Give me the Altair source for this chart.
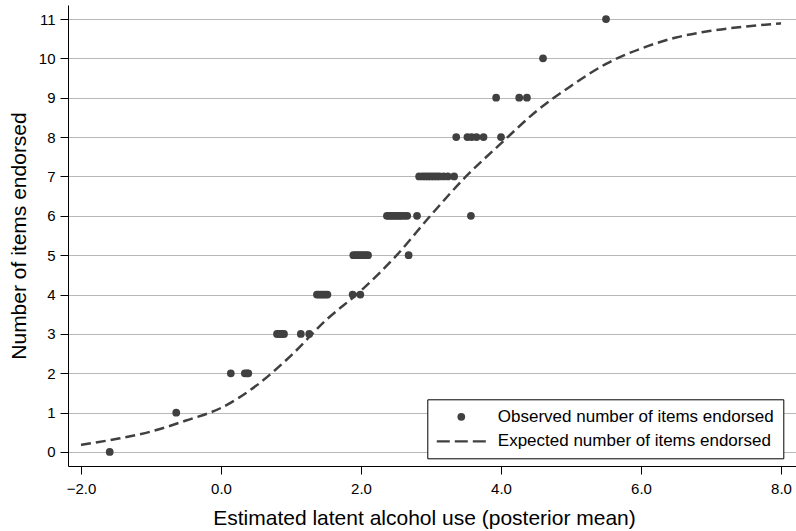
import altair as alt
import pandas as pd

# Observed items endorsed vs. posterior mean of latent alcohol use
obs_x = [-1.59,
         -0.64,
         0.14, 0.34, 0.37, 0.39,
         0.80, 0.82, 0.84, 0.86, 0.88, 0.90, 1.14, 1.26,
         1.37, 1.40, 1.43, 1.46, 1.49, 1.52, 1.88, 1.99,
         1.89, 1.92, 1.95, 1.98, 2.01, 2.04, 2.07, 2.10, 2.68,
         2.37, 2.40, 2.43, 2.46, 2.49, 2.52, 2.55, 2.58, 2.62, 2.66, 2.80, 3.57,
         2.83, 2.88, 2.92, 2.96, 3.00, 3.04, 3.08, 3.12, 3.18, 3.24, 3.33,
         3.36, 3.52, 3.58, 3.65, 3.75, 4.00,
         3.93, 4.26, 4.37,
         4.60,
         5.50]
obs_y = [0,
         1,
         2, 2, 2, 2,
         3, 3, 3, 3, 3, 3, 3, 3,
         4, 4, 4, 4, 4, 4, 4, 4,
         5, 5, 5, 5, 5, 5, 5, 5, 5,
         6, 6, 6, 6, 6, 6, 6, 6, 6, 6, 6, 6,
         7, 7, 7, 7, 7, 7, 7, 7, 7, 7, 7,
         8, 8, 8, 8, 8, 8,
         9, 9, 9,
         10,
         11]

# Expected number of items endorsed (test characteristic curve)
curve_x = [-2.0, -1.5, -1.0, -0.5, 0.0, 0.5, 1.0, 1.5, 2.0, 2.5, 3.0,
           3.5, 4.0, 4.5, 5.0, 5.5, 6.0, 6.5, 7.0, 7.5, 8.0]
curve_y = [0.18, 0.33, 0.52, 0.80, 1.12, 1.68, 2.45, 3.35, 4.10, 4.98, 6.02,
           7.00, 7.84, 8.65, 9.30, 9.86, 10.25, 10.53, 10.70, 10.81, 10.89]

x_ticks = [-2, 0, 2, 4, 6, 8]
y_ticks = list(range(0, 12))

OBS = "Observed number of items endorsed"
EXP = "Expected number of items endorsed"
series_names = [OBS, EXP]

# legend glyph for the dashed curve: three short filled bars
DASH_PATH = ("M-6.33,-0.3H-2.97V0.3H-6.33Z "
             "M-1.68,-0.3H1.68V0.3H-1.68Z "
             "M2.97,-0.3H6.33V0.3H2.97Z")

INK = "#404040"
FONT = "Liberation Sans"

points = pd.DataFrame({"x": obs_x, "y": obs_y, "series": OBS})
curve = pd.DataFrame({"x": curve_x, "y": curve_y})

x_scale = alt.Scale(domain=[-2.186, 8.214], nice=False, zero=False)
y_scale = alt.Scale(domain=[-0.356, 11.356], nice=False, zero=False)

x_axis = alt.Axis(
    title="Estimated latent alcohol use (posterior mean)",
    values=x_ticks, format=".1f", grid=False,
    tickSize=8, labelPadding=7.5,
    titleX=356, titleY=58, titleBaseline="alphabetic",
)
y_axis = alt.Axis(
    title="Number of items endorsed",
    values=y_ticks, format="d", grid=True,
    gridColor="#b8b8b8", gridWidth=1,
    tickSize=8, labelPadding=5,
    titleX=-43, titleBaseline="alphabetic",
)

line = alt.Chart(curve).mark_line(
    color=INK, strokeWidth=2.5, strokeDash=[10, 5], interpolate="monotone"
).encode(
    x=alt.X("x:Q", scale=x_scale, axis=x_axis),
    y=alt.Y("y:Q", scale=y_scale, axis=y_axis),
)

dots = alt.Chart(points).mark_point(
    filled=True, size=60, color=INK, opacity=1
).encode(
    x=alt.X("x:Q", scale=x_scale, axis=x_axis),
    y=alt.Y("y:Q", scale=y_scale, axis=y_axis),
    shape=alt.Shape(
        "series:N",
        scale=alt.Scale(domain=series_names, range=["circle", DASH_PATH]),
        legend=alt.Legend(
            title=None, orient="none", legendX=359.3, legendY=394.3,
            strokeColor="black", fillColor="white", padding=9,
            labelFont=FONT, labelFontSize=17, labelColor="black",
            labelLimit=500,
            symbolSize=60, symbolFillColor=INK, symbolStrokeWidth=0,
            symbolOpacity=1, symbolOffset=16.5, labelOffset=28,
            rowPadding=6.5,
        ),
    ),
)

chart = alt.layer(line, dots).properties(
    width=728, height=461,
    padding={"left": 68, "top": 5, "right": 0, "bottom": 65},
    autosize=alt.AutoSizeParams(type="none"),
    background="white",
).configure_view(
    stroke=None
).configure_axis(
    domainColor="black", domainWidth=1, tickColor="black", tickWidth=1,
    labelFont=FONT, labelFontSize=15, labelColor="black",
    titleFont=FONT, titleFontSize=21, titleColor="black", titleFontWeight="normal",
)

chart.save("out.html", embed_options={"renderer": "svg", "actions": False})
